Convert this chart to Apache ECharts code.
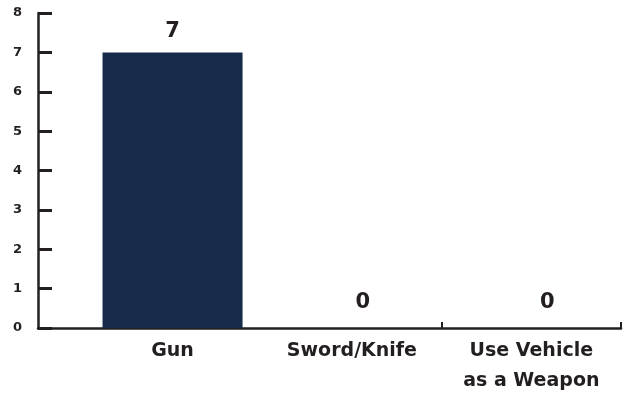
<!DOCTYPE html>
<html>
<head>
<meta charset="utf-8">
<script src="https://cdn.jsdelivr.net/npm/echarts@6/dist/echarts.min.js"></script>
<style>
  html, body { margin: 0; padding: 0; background: #ffffff; }
  #chart { width: 626px; height: 394px; }
</style>
</head>
<body>
<div id="chart"></div>
<script>
// Weapon types and incident counts
const categories = ['Gun', 'Sword/Knife', 'Use Vehicle\nas a Weapon'];
const counts = [7, 0, 0];
const yTicks = [0, 1, 2, 3, 4, 5, 6, 7, 8];

const ink = '#231f20';
const navy = '#162a49';
const font = '"DejaVu Sans", "Open Sans", sans-serif';

// value labels of empty bars sit a little higher and to the right
const emptyLabelShift = [[0, 0], [11, -5], [16, -5]];

const chart = echarts.init(document.getElementById('chart'), null, { renderer: 'canvas' });

chart.setOption({
  animation: false,
  grid: { left: 38, right: 5, top: 13, bottom: 66, containLabel: false, outerBoundsMode: 'none' },
  xAxis: {
    type: 'value',
    min: -0.75,
    max: 2.5,
    splitLine: { show: false },
    axisLine: { show: true, onZero: false, lineStyle: { color: ink, width: 2.5 } },
    axisTick: {
      show: true, inside: true, length: 6,
      lineStyle: { color: ink, width: 2 },
      customValues: [1.5, 2.5]
    },
    axisLabel: {
      customValues: [0, 1, 2],
      formatter: v => categories[Math.round(v)] || '',
      color: ink,
      fontFamily: font,
      fontSize: 19,
      fontWeight: 'bold',
      lineHeight: 30,
      margin: 8,
      align: 'center',
      verticalAlign: 'top'
    }
  },
  yAxis: {
    type: 'value',
    position: 'left',
    min: yTicks[0],
    max: yTicks[yTicks.length - 1],
    interval: 1,
    splitLine: { show: false },
    axisLine: { show: true, onZero: false, lineStyle: { color: ink, width: 2.5 } },
    axisTick: { show: true, inside: true, length: 14, lineStyle: { color: ink, width: 3 } },
    axisLabel: {
      color: ink,
      fontFamily: font,
      fontSize: 13,
      fontWeight: 'bold',
      margin: 16
    }
  },
  series: [{
    type: 'bar',
    barWidth: 140,
    data: counts.map((v, i) => ({
      value: [i, v],
      label: v === 0 ? { offset: emptyLabelShift[i] } : undefined
    })),
    itemStyle: { color: navy },
    label: {
      show: true,
      position: 'top',
      distance: 10,
      color: ink,
      fontFamily: font,
      fontSize: 21,
      fontWeight: 'bold',
      formatter: p => String(p.value[1])
    }
  }]
});
</script>
</body>
</html>
